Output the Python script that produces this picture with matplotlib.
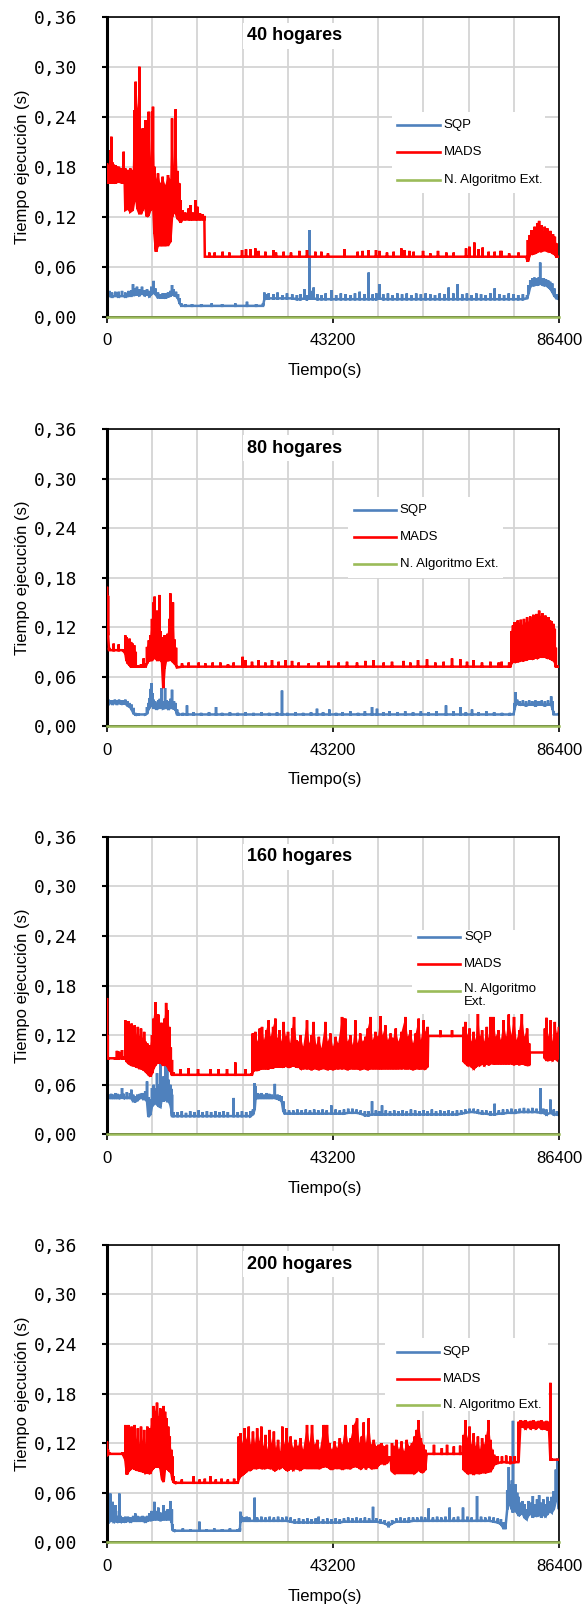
import numpy as np
import matplotlib
matplotlib.use("Agg")
import matplotlib.pyplot as plt
from matplotlib.patches import Rectangle
from matplotlib.lines import Line2D

W, H, DPI = 587, 1612, 100

# Each sample: (time in s, minimum run time in ms, maximum run time in ms)
# ---------------------------------------------------------------- 40 hogares
sqp40 = [
    (0, 24, 30), (450, 25, 31), (960, 24, 29), (1590, 25, 30), (2230, 24, 30),
    (2870, 25, 31), (3500, 24, 29), (4140, 25, 31), (4650, 25, 32), (4970, 28, 39),
    (5290, 26, 34), (5730, 27, 36), (6180, 26, 33), (6690, 28, 36), (7200, 26, 32),
    (7650, 27, 33), (8090, 25, 31), (8470, 27, 36), (8920, 29, 43), (9240, 27, 34),
    (9750, 23, 29), (10200, 23, 27), (10640, 23, 28), (11150, 23, 28), (11660, 24, 29),
    (12110, 25, 31), (12430, 27, 38), (12740, 26, 33), (13190, 25, 30), (13570, 22, 27),
    (13890, 16, 22), (14210, 13, 16), (14970, 13, 15), (16250, 13, 15), (18000, 13, 15),
    (20000, 13, 16), (22000, 13, 15), (24530, 13, 16), (26760, 13, 18), (28500, 13, 15),
    (29820, 13, 16), (30080, 21, 29), (30390, 22, 27), (30900, 22, 28), (31800, 22, 27),
    (32600, 22, 29), (33500, 22, 26), (34400, 22, 28), (35400, 22, 27), (36300, 21, 26),
    (37000, 21, 27), (37720, 22, 33), (38200, 21, 26), (38680, 22, 104), (39100, 22, 31),
    (39500, 22, 35), (40200, 21, 27), (41000, 21, 26), (41800, 21, 28), (42880, 21, 32),
    (43800, 21, 26), (44700, 21, 28), (45600, 21, 27), (46500, 21, 26), (47400, 21, 28),
    (48300, 21, 30), (49200, 21, 27), (50020, 21, 53), (50800, 21, 27), (51500, 21, 28),
    (52060, 22, 39), (52800, 21, 27), (53700, 21, 28), (54600, 21, 26), (55500, 21, 28),
    (56400, 21, 27), (57300, 21, 28), (58200, 21, 26), (59100, 21, 28), (60000, 21, 27),
    (60900, 21, 28), (61800, 21, 27), (62700, 21, 26), (63600, 21, 28), (64500, 21, 27),
    (65310, 21, 35), (66200, 21, 28), (67030, 21, 39), (67900, 21, 27), (68800, 21, 28),
    (69700, 21, 26), (70600, 21, 28), (71500, 21, 27), (72400, 21, 26), (73300, 21, 28),
    (74100, 21, 34), (75000, 21, 27), (75900, 21, 26), (76800, 21, 28), (77700, 21, 27),
    (78600, 21, 26), (79500, 21, 27), (80300, 22, 26), (80600, 28, 38), (80900, 36, 44),
    (81300, 38, 46), (81700, 38, 47), (82100, 39, 46), (82500, 39, 47), (82800, 40, 65),
    (83100, 39, 46), (83500, 38, 46), (83900, 38, 45), (84300, 36, 44), (84700, 34, 42),
    (85100, 30, 40), (85500, 25, 34), (85900, 22, 27), (86400, 21, 25),
]
mads40 = [
    (0, 161, 184), (320, 161, 182), (640, 161, 200), (830, 161, 216), (1080, 161, 185),
    (1590, 161, 182), (2230, 162, 180), (2870, 161, 178), (3190, 161, 198), (3380, 161, 175),
    (3500, 128, 178), (4010, 130, 176), (4460, 126, 178), (4910, 128, 176), (5230, 140, 248),
    (5480, 150, 282), (5800, 130, 250), (6180, 124, 300), (6500, 124, 190), (6820, 128, 226),
    (7070, 135, 180), (7330, 130, 236), (7650, 120, 200), (7970, 122, 246), (8280, 128, 190),
    (8600, 130, 246), (8790, 140, 252), (9050, 100, 180), (9370, 78, 165), (9750, 86, 172),
    (10200, 86, 160), (10640, 86, 168), (11150, 86, 158), (11660, 86, 170), (12110, 90, 165),
    (12430, 120, 238), (12740, 125, 180), (13130, 125, 249), (13450, 118, 175), (13830, 116, 160),
    (14080, 113, 140), (14460, 117, 128), (14970, 117, 125), (15610, 117, 130), (16000, 117, 134),
    (16380, 117, 125), (16890, 117, 140), (17270, 117, 132), (17780, 117, 124), (18290, 117, 123),
    (18610, 117, 121), (18700, 72, 72), (19560, 72, 77), (20580, 72, 77), (22110, 72, 78),
    (23390, 72, 77), (25810, 72, 80), (26570, 72, 81), (27400, 72, 81), (28360, 72, 82),
    (28990, 72, 79), (30270, 72, 78), (31860, 72, 80), (32300, 72, 77), (33770, 72, 78),
    (35170, 72, 77), (36770, 72, 79), (38230, 72, 80), (39820, 72, 78), (40970, 72, 78),
    (42240, 72, 76), (45370, 72, 81), (47920, 72, 78), (48870, 72, 79), (50020, 72, 80),
    (51420, 72, 80), (52060, 72, 79), (53520, 72, 77), (54800, 72, 78), (56260, 72, 82),
    (56840, 72, 80), (57790, 72, 79), (58620, 72, 78), (60410, 72, 79), (61810, 72, 76),
    (63270, 72, 79), (64870, 72, 77), (66270, 72, 77), (68630, 72, 82), (69260, 72, 84),
    (70220, 72, 89), (71040, 72, 81), (71810, 72, 83), (72960, 72, 78), (74110, 72, 78),
    (75190, 72, 79), (75440, 72, 79), (76870, 72, 76), (78660, 72, 77), (80100, 72, 72),
    (80450, 66, 92), (80810, 74, 98), (81170, 76, 104), (81500, 76, 97), (81740, 77, 108),
    (82000, 77, 101), (82240, 78, 112), (82600, 79, 115), (82850, 79, 104), (83100, 79, 110),
    (83400, 80, 102), (83680, 80, 108), (83950, 80, 100), (84180, 79, 106), (84450, 79, 98),
    (84750, 78, 103), (85000, 78, 96), (85250, 76, 99), (85610, 75, 96), (85900, 72, 88),
    (86400, 72, 72),
]
ext40 = [(0, 0, 0), (86400, 0, 0)]

# ---------------------------------------------------------------- 80 hogares
sqp80 = [
    (0, 28, 35), (300, 27, 32), (700, 28, 31), (1100, 27, 31), (1500, 28, 32),
    (1900, 27, 31), (2300, 28, 32), (2700, 27, 31), (3100, 27, 31), (3500, 27, 32),
    (3900, 25, 30), (4300, 24, 28), (4700, 20, 26), (5100, 15, 22), (5400, 14, 16),
    (6000, 14, 15), (7300, 14, 15), (7650, 15, 23), (7900, 20, 28), (8100, 22, 34),
    (8300, 24, 45), (8500, 26, 52), (8700, 24, 40), (8900, 22, 32), (9200, 22, 30),
    (9500, 20, 28), (9800, 22, 31), (10100, 22, 33), (10390, 24, 46), (10700, 21, 30),
    (11100, 22, 46), (11400, 22, 31), (11800, 21, 30), (12100, 22, 33), (12430, 22, 44),
    (12800, 21, 30), (13100, 20, 28), (13400, 14, 20), (13700, 14, 16), (14500, 14, 16),
    (15290, 14, 25), (16500, 14, 17), (18000, 14, 16), (19500, 14, 17), (20840, 14, 23),
    (22000, 14, 16), (23500, 14, 17), (25000, 14, 16), (26500, 14, 17), (28000, 14, 16),
    (29500, 14, 17), (31000, 14, 16), (32500, 14, 17), (33450, 14, 43), (34500, 14, 16),
    (36000, 14, 17), (37500, 14, 16), (39000, 14, 17), (40140, 14, 21), (41300, 14, 17),
    (42500, 14, 20), (43800, 14, 16), (45000, 14, 17), (46500, 14, 18), (48000, 14, 16),
    (49300, 14, 18), (50660, 14, 23), (51610, 14, 21), (52800, 14, 17), (54000, 14, 18),
    (55500, 14, 17), (57000, 14, 18), (58500, 14, 17), (60000, 14, 18), (61500, 14, 17),
    (63000, 14, 18), (64800, 14, 25), (66200, 14, 18), (67540, 14, 23), (68600, 14, 17),
    (69770, 14, 20), (71000, 14, 17), (72500, 14, 18), (74000, 14, 17), (75500, 14, 16),
    (77000, 14, 16), (77700, 14, 15), (77900, 20, 28), (78100, 26, 41), (78400, 27, 32),
    (78900, 26, 30), (79500, 26, 31), (80100, 25, 30), (80700, 26, 31), (81300, 26, 30),
    (81900, 25, 31), (82500, 26, 30), (83100, 26, 31), (83700, 25, 30), (84300, 26, 31),
    (84900, 26, 36), (85200, 20, 30), (85400, 14, 18), (86400, 14, 16),
]
mads80 = [
    (0, 150, 169), (200, 110, 158), (400, 92, 95), (1270, 92, 100), (2230, 92, 99),
    (3000, 92, 93), (3500, 88, 110), (3700, 80, 108), (4000, 76, 104), (4300, 74, 106),
    (4600, 72, 102), (4900, 72, 100), (5200, 72, 98), (5500, 72, 90), (5800, 72, 74),
    (6500, 72, 75), (7000, 72, 82), (7400, 72, 76), (7650, 76, 96), (8000, 80, 104),
    (8300, 80, 110), (8600, 80, 130), (8900, 82, 150), (9100, 84, 157), (9300, 82, 120),
    (9600, 80, 140), (9800, 80, 110), (10000, 82, 159), (10250, 80, 115), (10500, 78, 108),
    (10750, 46, 105), (11000, 70, 110), (11300, 80, 108), (11600, 80, 112), (11900, 80, 130),
    (12100, 82, 161), (12350, 80, 140), (12600, 78, 150), (12900, 76, 105), (13200, 74, 95),
    (13400, 71, 73), (14340, 72, 76), (15610, 72, 77), (17520, 72, 77), (18800, 72, 76),
    (20200, 72, 77), (21670, 72, 77), (23130, 72, 75), (24210, 72, 77), (25930, 72, 84),
    (26440, 72, 80), (27720, 72, 78), (28990, 72, 80), (30270, 72, 77), (31540, 72, 80),
    (32820, 72, 78), (34090, 72, 80), (35370, 72, 79), (36640, 72, 77), (38550, 72, 76),
    (40460, 72, 77), (42370, 72, 79), (44280, 72, 77), (45880, 72, 78), (47790, 72, 77),
    (49380, 72, 79), (50970, 72, 80), (52890, 72, 77), (54480, 72, 78), (56710, 72, 79),
    (57980, 72, 77), (59450, 72, 80), (61170, 72, 81), (62760, 72, 77), (64360, 72, 78),
    (65950, 72, 82), (67540, 72, 81), (68820, 72, 78), (70090, 72, 80), (71680, 72, 77),
    (73280, 72, 78), (74870, 72, 77), (75440, 72, 78), (76870, 72, 77), (77100, 72, 74),
    (77300, 76, 115), (77600, 78, 122), (77900, 78, 126), (78200, 78, 120), (78500, 79, 128),
    (78800, 79, 124), (79100, 80, 129), (79400, 80, 122), (79700, 80, 130), (80000, 81, 125),
    (80300, 81, 132), (80600, 82, 126), (80900, 82, 133), (81200, 82, 128), (81500, 82, 135),
    (81800, 83, 130), (82100, 83, 136), (82400, 83, 131), (82600, 84, 140), (82900, 84, 133),
    (83200, 84, 137), (83500, 84, 131), (83800, 84, 134), (84100, 83, 130), (84400, 83, 132),
    (84700, 82, 128), (85000, 81, 127), (85300, 80, 124), (85600, 78, 118), (85800, 72, 95),
    (86000, 72, 73), (86400, 72, 72),
]
ext80 = [(0, 0, 0), (86400, 0, 0)]

# --------------------------------------------------------------- 160 hogares
sqp160 = [
    (0, 43, 50), (400, 44, 48), (800, 44, 49), (1200, 44, 48), (1600, 44, 50),
    (2000, 44, 49), (2500, 44, 48), (2870, 45, 56), (3200, 44, 49), (3800, 44, 51),
    (4400, 44, 50), (4650, 44, 54), (5000, 40, 48), (5400, 40, 46), (5800, 41, 48),
    (6300, 44, 49), (6700, 44, 50), (7000, 43, 50), (7300, 44, 52), (7650, 40, 64),
    (7900, 21, 45), (8300, 24, 42), (8600, 34, 56), (8900, 36, 60), (9240, 40, 56),
    (9560, 36, 74), (9900, 34, 60), (10200, 33, 86), (10500, 44, 60), (10800, 40, 70),
    (11150, 44, 86), (11500, 40, 80), (11800, 40, 66), (12100, 36, 60), (12300, 30, 55),
    (12430, 22, 48), (12700, 22, 27), (13500, 22, 27), (14300, 22, 28), (15100, 22, 26),
    (15900, 22, 28), (16700, 22, 27), (17500, 22, 29), (18300, 22, 27), (19100, 22, 28),
    (19900, 22, 27), (20700, 22, 28), (21500, 22, 27), (22300, 22, 28), (23100, 22, 27),
    (24210, 22, 44), (25000, 22, 27), (25800, 22, 28), (26600, 22, 27), (27400, 22, 28),
    (27900, 24, 30), (28230, 30, 62), (28400, 44, 58), (28700, 44, 50), (29000, 44, 49),
    (29500, 44, 50), (30000, 44, 48), (30500, 44, 50), (31000, 44, 49), (31500, 44, 48),
    (32080, 44, 61), (32600, 43, 48), (33000, 42, 47), (33400, 40, 46), (33700, 28, 40),
    (34000, 25, 30), (34800, 25, 29), (35600, 25, 29), (36400, 25, 30), (37200, 25, 29),
    (38000, 25, 30), (38800, 25, 29), (39600, 25, 30), (40400, 25, 29), (41200, 25, 30),
    (42000, 25, 29), (42880, 25, 35), (43700, 25, 30), (44500, 25, 29), (45300, 25, 30),
    (46100, 26, 31), (46900, 26, 31), (47700, 26, 30), (48500, 25, 29), (49300, 23, 28),
    (50000, 23, 28), (50660, 24, 40), (51400, 24, 29), (52000, 24, 28), (52570, 24, 35),
    (53300, 24, 29), (54100, 24, 28), (54900, 24, 29), (55700, 24, 28), (56500, 24, 29),
    (57300, 24, 28), (58100, 24, 30), (58900, 24, 29), (59700, 24, 28), (60500, 24, 29),
    (61300, 24, 28), (62100, 24, 30), (62900, 24, 28), (63700, 24, 29), (64500, 24, 28),
    (65300, 24, 29), (66100, 24, 28), (66900, 24, 29), (67700, 25, 29), (68500, 26, 30),
    (69300, 27, 31), (70100, 27, 31), (70900, 26, 30), (71700, 25, 29), (72500, 25, 29),
    (73300, 24, 28), (74100, 24, 37), (74900, 25, 29), (75700, 25, 30), (76500, 26, 30),
    (77300, 26, 31), (78100, 26, 30), (78900, 27, 31), (79700, 27, 32), (80500, 27, 31),
    (81300, 27, 32), (82100, 27, 31), (82820, 26, 56), (83400, 26, 31), (84000, 24, 30),
    (84750, 26, 42), (85400, 24, 30), (86000, 24, 28), (86400, 23, 27),
]
mads160 = [
    (0, 95, 165), (150, 92, 120), (300, 92, 93), (1500, 92, 93), (1900, 92, 101),
    (2300, 92, 100), (2870, 92, 102), (3300, 92, 94), (3500, 92, 138), (3800, 88, 128),
    (4100, 86, 137), (4400, 85, 125), (4700, 84, 134), (5000, 84, 122), (5300, 83, 132),
    (5600, 82, 120), (5900, 82, 130), (6200, 80, 118), (6500, 80, 128), (6800, 79, 116),
    (7100, 78, 124), (7400, 76, 112), (7700, 74, 110), (8000, 72, 100), (8300, 70, 108),
    (8600, 74, 120), (8900, 80, 140), (9250, 84, 160), (9500, 86, 132), (9800, 88, 145),
    (10100, 86, 125), (10400, 88, 135), (10700, 84, 120), (11000, 84, 140), (11300, 86, 159),
    (11600, 82, 150), (11900, 78, 130), (12200, 76, 105), (12420, 72, 90), (12700, 72, 75),
    (14020, 72, 79), (15610, 72, 80), (17400, 72, 79), (19750, 72, 79), (21350, 72, 79),
    (22940, 72, 79), (24530, 72, 87), (26440, 72, 79), (27700, 72, 74), (27850, 76, 122),
    (28360, 78, 124), (28800, 78, 112), (29200, 79, 128), (29630, 80, 130), (30000, 80, 114),
    (30450, 80, 126), (30900, 80, 138), (31300, 81, 118), (31750, 81, 130), (32180, 82, 140),
    (32600, 82, 116), (33000, 82, 126), (33400, 82, 112), (33770, 82, 136), (34200, 83, 118),
    (34600, 82, 124), (35000, 82, 110), (35400, 83, 128), (35750, 83, 142), (36200, 82, 114),
    (36640, 82, 112), (37000, 80, 120), (37500, 80, 106), (38230, 80, 138), (38700, 80, 110),
    (39100, 79, 120), (39500, 80, 136), (40000, 80, 108), (40500, 79, 118), (41000, 80, 104),
    (41740, 80, 136), (42200, 79, 112), (42700, 80, 122), (43200, 79, 106), (43700, 80, 118),
    (44200, 80, 110), (44920, 80, 142), (45560, 80, 140), (46000, 79, 112), (46500, 80, 120),
    (47000, 80, 108), (47470, 80, 138), (47900, 80, 110), (48400, 79, 122), (48900, 80, 112),
    (49400, 80, 118), (49850, 79, 128), (50340, 80, 142), (50800, 80, 114), (51300, 80, 124),
    (51800, 80, 118), (52250, 80, 143), (52700, 80, 120), (53200, 80, 132), (53700, 80, 114),
    (54200, 80, 122), (54700, 80, 116), (55200, 80, 128), (55700, 80, 112), (56300, 80, 124),
    (57030, 80, 142), (57500, 80, 118), (58000, 80, 126), (58500, 79, 110), (59000, 80, 122),
    (59580, 80, 140), (60000, 80, 114), (60530, 80, 138), (60900, 80, 124), (61300, 82, 130),
    (61400, 119, 119), (63700, 119, 126), (65950, 119, 126), (68100, 119, 119), (68200, 88, 130),
    (68500, 86, 136), (68900, 84, 120), (69300, 84, 128), (69700, 82, 112), (70100, 80, 124),
    (70500, 82, 114), (70900, 84, 148), (71300, 84, 118), (71700, 86, 126), (72100, 84, 112),
    (72600, 86, 130), (73000, 85, 116), (73300, 86, 142), (73900, 86, 142), (74300, 86, 118),
    (74800, 86, 126), (75300, 86, 114), (75800, 86, 138), (76300, 86, 118), (76800, 86, 145),
    (77300, 86, 120), (77800, 85, 142), (78300, 86, 114), (78800, 85, 126), (79300, 86, 147),
    (79800, 85, 118), (80300, 84, 128), (80700, 84, 110), (80800, 99, 99), (83600, 99, 99),
    (83700, 92, 128), (84000, 90, 141), (84400, 90, 118), (84800, 91, 138), (85200, 90, 112),
    (85600, 92, 136), (86000, 90, 122), (86400, 95, 130),
]
ext160 = [(0, 0, 0), (86400, 0, 0)]

# --------------------------------------------------------------- 200 hogares
sqp200 = [
    (0, 24, 30), (300, 24, 36), (640, 26, 59), (800, 26, 40), (1080, 26, 49),
    (1300, 25, 38), (1600, 26, 45), (1900, 25, 32), (2300, 25, 38), (2360, 26, 59),
    (2600, 25, 32), (3000, 25, 30), (3500, 25, 31), (4000, 26, 31), (4500, 25, 30),
    (5000, 26, 32), (5400, 26, 35), (5800, 26, 32), (6300, 26, 31), (6800, 26, 32),
    (7300, 25, 31), (7700, 26, 32), (8100, 27, 35), (8500, 27, 38), (9050, 28, 49),
    (9400, 28, 38), (9800, 28, 42), (10200, 27, 36), (10830, 28, 45), (11200, 28, 38),
    (11600, 28, 40), (12100, 28, 50), (12400, 24, 40), (12500, 15, 22), (12800, 14, 16),
    (14500, 14, 17), (16000, 14, 16), (17650, 14, 25), (19000, 14, 16), (20500, 14, 17),
    (22000, 14, 16), (23500, 14, 17), (25000, 14, 16), (25400, 14, 17), (25490, 24, 37),
    (25700, 26, 32), (26200, 26, 30), (26700, 26, 31), (27200, 26, 30), (28230, 26, 54),
    (28700, 26, 30), (29500, 26, 31), (30300, 26, 30), (31100, 26, 31), (31900, 26, 30),
    (32700, 26, 31), (33500, 26, 30), (34300, 26, 31), (35100, 25, 30), (35900, 24, 28),
    (36700, 24, 29), (37500, 24, 28), (38300, 24, 29), (39100, 24, 28), (39900, 24, 29),
    (40460, 24, 31), (41300, 24, 28), (42100, 24, 29), (42900, 24, 28), (43700, 24, 29),
    (44500, 24, 28), (45300, 25, 29), (46100, 25, 30), (46900, 25, 29), (47700, 25, 30),
    (48500, 25, 29), (49300, 25, 30), (50100, 25, 29), (50850, 25, 43), (51500, 25, 29),
    (52300, 24, 28), (53100, 23, 27), (53840, 20, 25), (54500, 23, 27), (55300, 25, 29),
    (56100, 25, 30), (56900, 25, 29), (57700, 25, 30), (58500, 26, 30), (59300, 26, 30),
    (60100, 26, 31), (60800, 26, 30), (61490, 26, 41), (62300, 26, 30), (63100, 26, 31),
    (63900, 26, 30), (64700, 26, 31), (65500, 26, 42), (66300, 26, 30), (67100, 26, 31),
    (68050, 26, 42), (68900, 26, 31), (69700, 26, 30), (70730, 26, 56), (71500, 26, 31),
    (72300, 26, 30), (73100, 26, 31), (73900, 25, 30), (74700, 24, 29), (75300, 22, 28),
    (75800, 17, 24), (76150, 17, 22), (76500, 40, 63), (76800, 45, 91), (77100, 48, 70),
    (77400, 40, 75), (77600, 36, 147), (77800, 40, 65), (78100, 38, 70), (78400, 36, 60),
    (78700, 32, 55), (79000, 34, 48), (79400, 36, 50), (79800, 30, 46), (80200, 28, 40),
    (80600, 33, 50), (81000, 36, 48), (81400, 30, 56), (81800, 34, 46), (82200, 31, 52),
    (82600, 36, 57), (83000, 30, 48), (83400, 34, 52), (83800, 32, 46), (84200, 34, 55),
    (84600, 38, 50), (85000, 36, 55), (85400, 40, 62), (85800, 50, 88), (86100, 60, 102),
    (86400, 40, 75),
]
mads200 = [
    (0, 108, 122), (200, 106, 112), (400, 107, 109), (3000, 107, 109), (3500, 100, 142),
    (3800, 82, 138), (4100, 86, 142), (4400, 88, 126), (4700, 90, 140), (5000, 90, 120),
    (5300, 89, 142), (5600, 88, 124), (5900, 88, 138), (6200, 87, 118), (6500, 87, 140),
    (6800, 86, 122), (7100, 86, 136), (7400, 84, 118), (7700, 85, 140), (8000, 84, 122),
    (8300, 84, 138), (8600, 88, 150), (8900, 90, 165), (9200, 92, 158), (9560, 92, 169),
    (9900, 92, 152), (10200, 90, 162), (10550, 76, 150), (10830, 73, 165), (11100, 90, 158),
    (11400, 90, 150), (11700, 88, 140), (12000, 86, 128), (12300, 84, 112), (12500, 76, 104),
    (12700, 73, 80), (13000, 72, 74), (14300, 72, 76), (16570, 72, 80), (17700, 72, 76),
    (18700, 72, 77), (19750, 72, 80), (20800, 72, 76), (21900, 72, 77), (23100, 72, 76),
    (24300, 72, 77), (25000, 72, 74), (25170, 76, 128), (25500, 80, 132), (25900, 82, 120),
    (26300, 84, 138), (26700, 86, 124), (27100, 88, 140), (27500, 88, 118), (27900, 90, 134),
    (28300, 90, 120), (28700, 90, 138), (29100, 91, 122), (29500, 90, 140), (29900, 90, 116),
    (30300, 90, 130), (30700, 91, 112), (31100, 90, 136), (31500, 90, 120), (31900, 88, 134),
    (32300, 88, 114), (32700, 90, 124), (33100, 90, 110), (33500, 92, 140), (33900, 90, 118),
    (34300, 88, 138), (34700, 88, 120), (35100, 90, 128), (35600, 88, 114), (36000, 90, 124),
    (36500, 89, 116), (37000, 88, 126), (37500, 90, 112), (38230, 90, 142), (38700, 90, 120),
    (39190, 90, 142), (39700, 90, 118), (40200, 90, 124), (40700, 90, 112), (41420, 92, 142),
    (42050, 92, 142), (42500, 90, 120), (43000, 89, 112), (43500, 90, 122), (44000, 90, 114),
    (44500, 90, 126), (45000, 89, 118), (45560, 90, 142), (46100, 90, 120), (46600, 90, 126),
    (47150, 92, 142), (47790, 92, 150), (48300, 90, 120), (48700, 90, 128), (49060, 92, 145),
    (49500, 90, 120), (50020, 92, 150), (50500, 90, 118), (51000, 90, 124), (51500, 90, 116),
    (51930, 94, 118), (52500, 96, 120), (53000, 95, 116), (53500, 96, 118), (53900, 100, 104),
    (54200, 100, 104), (54480, 86, 120), (54900, 84, 116), (55300, 84, 124), (55800, 84, 112),
    (56300, 84, 122), (56800, 84, 110), (57300, 84, 124), (57800, 84, 116), (58300, 84, 120),
    (58800, 84, 128), (59200, 86, 136), (59580, 88, 148), (60000, 86, 126), (60500, 86, 118),
    (60850, 88, 112), (61100, 107, 108), (62500, 107, 118), (64000, 107, 114), (65000, 107, 118),
    (66300, 107, 116), (67500, 107, 117), (68100, 107, 109), (68180, 88, 130), (68500, 86, 148),
    (68900, 84, 126), (69300, 84, 140), (69700, 84, 118), (70100, 83, 132), (70500, 84, 116),
    (70900, 84, 128), (71300, 84, 112), (71700, 85, 126), (72100, 85, 118), (72500, 85, 130),
    (72960, 86, 148), (73300, 86, 124), (73700, 90, 112), (74000, 94, 106), (74500, 96, 104),
    (74700, 96, 104), (75500, 97, 104), (76300, 97, 105), (77100, 96, 104), (77900, 97, 104),
    (78600, 97, 104), (78700, 100, 146), (79000, 140, 148), (79500, 140, 147), (80000, 138, 148),
    (80500, 140, 146), (81000, 138, 147), (81500, 139, 148), (82000, 138, 146), (82500, 140, 147),
    (83000, 138, 148), (83500, 138, 146), (84000, 137, 147), (84500, 136, 146), (84750, 100, 193),
    (84900, 100, 102), (86400, 100, 101),
]
ext200 = [(0, 0, 0), (86400, 0, 0)]

panel_titles = ["40 hogares", "80 hogares", "160 hogares", "200 hogares"]
panel_sqp = [sqp40, sqp80, sqp160, sqp200]
panel_mads = [mads40, mads80, mads160, mads200]
panel_ext = [ext40, ext80, ext160, ext200]
series_names = ["SQP", "MADS", "N. Algoritmo Ext."]
x_ticks = [0, 43200, 86400]
x_grid_step = 8640
y_ticks = [0.00, 0.06, 0.12, 0.18, 0.24, 0.30, 0.36]

COL_SQP = "#4f81bd"
COL_MADS = "#ff0000"
COL_EXT = "#9bbb59"
GRID = "#d4d4d4"
SANS = ["Liberation Sans", "DejaVu Sans"]
MONO = ["DejaVu Sans Mono"]

# axes frames in pixels: left, top, right, bottom
frames = [
    (107, 16.7, 559, 316.7),
    (107, 429.3, 559, 726.0),
    (107, 836.8, 559, 1134.3),
    (107, 1244.8, 559, 1542.3),
]
# legend layout in axes fractions: box (x0, y0, x1, y1), handle x0, x1, text x, row y's
legend_layout = [
    ((0.631, 0.412, 0.969, 0.682), 0.642, 0.737, 0.745, (0.639, 0.548, 0.456)),
    ((0.533, 0.499, 0.876, 0.772), 0.546, 0.639, 0.648, (0.728, 0.636, 0.545)),
    ((0.674, 0.405, 0.998, 0.687), 0.688, 0.781, 0.790, (0.664, 0.572, 0.483)),
    ((0.616, 0.440, 0.975, 0.687), 0.642, 0.735, 0.743, (0.639, 0.548, 0.461)),
]
legend_labels = [
    series_names,
    series_names,
    ["SQP", "MADS", "N. Algoritmo\nExt."],
    series_names,
]
title_pos = [(0.31, 0.936), (0.31, 0.936), (0.31, 0.933), (0.31, 0.935)]

LW = 1.8


def draw_trace(ax, samples, color, fill, z):
    arr = np.asarray(samples, dtype=float)
    t = arr[:, 0]
    lo = arr[:, 1] / 1000.0
    hi = arr[:, 2] / 1000.0
    if fill:
        ax.fill_between(t, lo, hi, where=(hi - lo) >= 0.015, color=color,
                        lw=0, interpolate=False, zorder=z)
    xs = np.repeat(t, 3)
    ys = np.column_stack([lo, hi, lo]).ravel()
    ax.plot(xs, ys, color=color, lw=LW, zorder=z, solid_joinstyle="miter",
            solid_capstyle="butt")


fig = plt.figure(figsize=(W / DPI, H / DPI), dpi=DPI)

for i in range(4):
    l, t, r, b = frames[i]
    ax = fig.add_axes([l / W, 1 - b / H, (r - l) / W, (b - t) / H])
    ax.set_xlim(0, 86400)
    ax.set_ylim(0, 0.36)

    # grid
    ax.set_xticks(x_ticks)
    ax.set_xticks(np.arange(0, 86400 + 1, x_grid_step), minor=True)
    ax.set_yticks(y_ticks)
    ax.grid(True, which="both", axis="x", color=GRID, lw=1.3, zorder=0)
    ax.grid(True, which="major", axis="y", color=GRID, lw=1.3, zorder=0)
    ax.set_axisbelow(True)

    ax.set_xticklabels([str(v) for v in x_ticks], family=SANS, fontsize=12)
    ax.set_yticklabels([f"{v:.2f}".replace(".", ",") for v in y_ticks],
                       family=MONO, fontsize=13)
    ax.tick_params(axis="x", which="major", direction="out", length=4, width=1.2,
                   pad=8, colors="black")
    ax.tick_params(axis="x", which="minor", length=0)
    ax.tick_params(axis="y", direction="out", length=3.5, width=1.5, pad=18)
    ax.tick_params(top=False, right=False)

    for side in ("top", "right", "bottom"):
        ax.spines[side].set_linewidth(1.2)
        ax.spines[side].set_color("black")
    ax.spines["left"].set_linewidth(2.2)
    ax.spines["left"].set_color("black")

    draw_trace(ax, panel_sqp[i], COL_SQP, False, 2)
    draw_trace(ax, panel_mads[i], COL_MADS, True, 3)
    ext = np.asarray(panel_ext[i], dtype=float)
    ax.plot(ext[:, 0], ext[:, 1] / 1000.0, color=COL_EXT, lw=1.8, zorder=6,
            clip_on=False)

    ax.set_xlabel("Tiempo(s)", family=SANS, fontsize=12)
    ax.xaxis.label.set_va("center")
    ax.xaxis.set_label_coords(0.482, -(371 - 316.7) / 300.0)
    ax.set_ylabel("Tiempo ejecución (s)", family=SANS, fontsize=12)
    ax.yaxis.label.set_va("center")
    ax.yaxis.set_label_coords(-(107 - 22.7) / 452.0, 0.5)

    tx, ty = title_pos[i]
    ax.text(tx, ty, panel_titles[i], transform=ax.transAxes, ha="left", va="center",
            family=SANS, fontsize=13, fontweight="bold", zorder=8,
            bbox=dict(boxstyle="square,pad=0.25", fc="white", ec="none"))

    (bx0, by0, bx1, by1), hx0, hx1, txx, rows = legend_layout[i]
    ax.add_patch(Rectangle((bx0, by0), bx1 - bx0, by1 - by0, transform=ax.transAxes,
                           facecolor="white", edgecolor="none", zorder=7))
    for col, lab, ry in zip([COL_SQP, COL_MADS, COL_EXT], legend_labels[i], rows):
        ax.add_line(Line2D([hx0, hx1], [ry, ry], transform=ax.transAxes, color=col,
                           lw=1.9, zorder=8))
        if "\n" in lab:
            # wrapped label: first line centred on the handle, the rest below it
            ax.text(txx, ry + 0.026, lab, transform=ax.transAxes, ha="left", va="top",
                    family=SANS, fontsize=9.5, zorder=8, linespacing=1.1)
        else:
            ax.text(txx, ry, lab, transform=ax.transAxes, ha="left", va="center",
                    family=SANS, fontsize=9.5, zorder=8)

fig.savefig("out.png", dpi=DPI)
